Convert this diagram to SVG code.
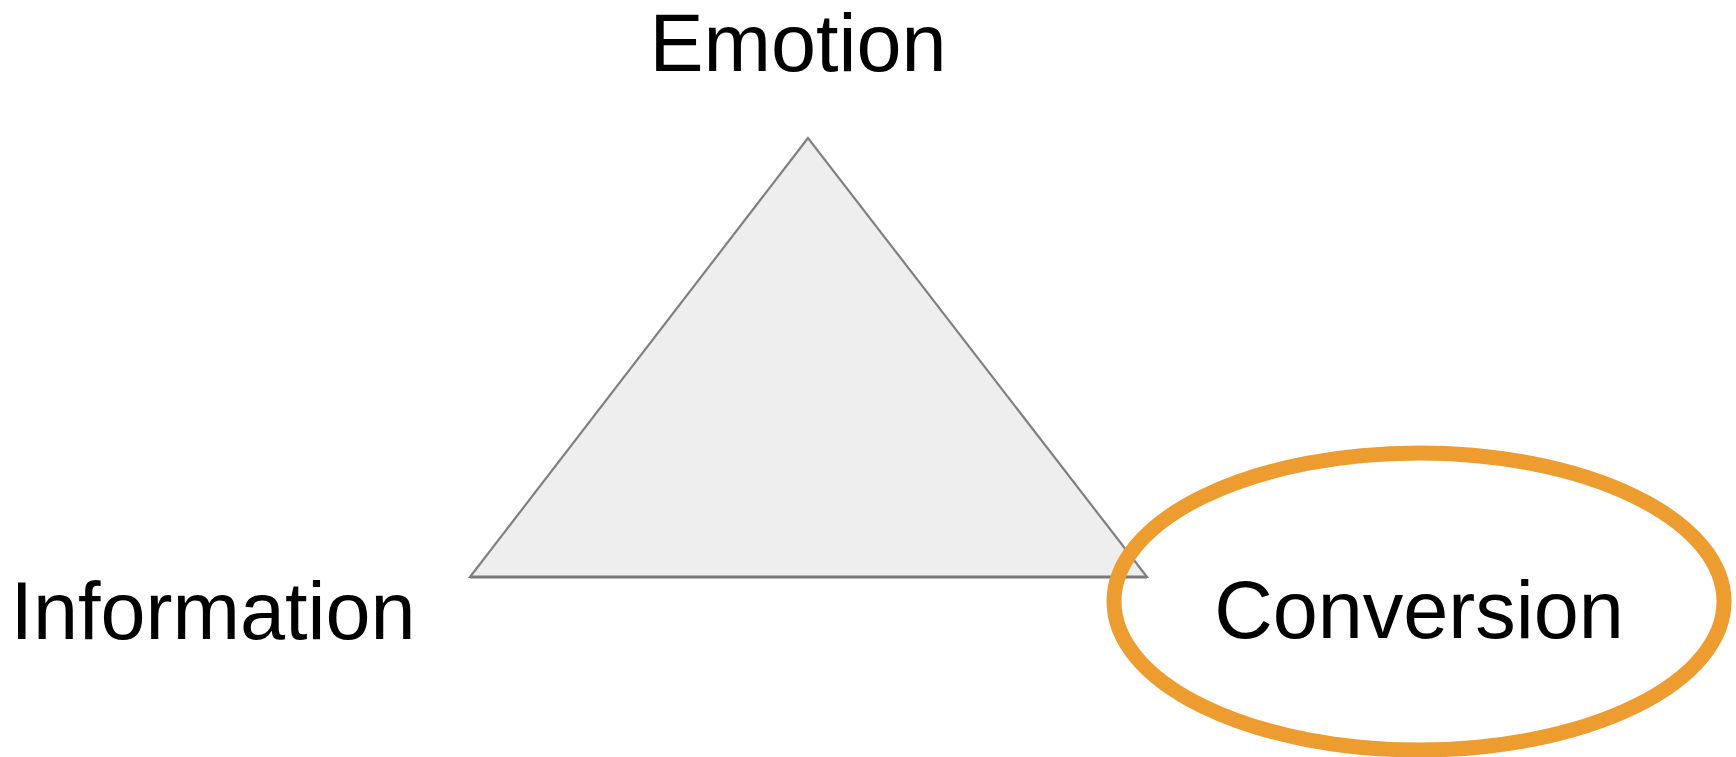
<svg xmlns="http://www.w3.org/2000/svg" width="1736" height="757" viewBox="0 0 1736 757">
  <style>
    .lbl { font-family: "Liberation Sans", Arial, sans-serif; font-size: 81px; fill: #000; text-anchor: middle; }
  </style>
  <rect width="1736" height="757" fill="#ffffff"/>
  <g id="triangle">
    <polygon points="808,138 470,577 1147,577" fill="#eeeeee" stroke="#808080" stroke-width="2.2" stroke-linejoin="miter"/>
    <line x1="470" y1="577" x2="1147" y2="577" stroke="#7a7a7a" stroke-width="3"/>
  </g>
  <g id="emotion">
    <text class="lbl" x="798" y="71">Emotion</text>
  </g>
  <g id="information">
    <text class="lbl" x="213" y="639">Information</text>
  </g>
  <g id="conversion">
    <ellipse cx="1419" cy="601.5" rx="305" ry="148.5" fill="none" stroke="#ED9C2F" stroke-width="15"/>
    <text class="lbl" x="1419" y="638">Conversion</text>
  </g>
  <g id="connectors"/>
</svg>
